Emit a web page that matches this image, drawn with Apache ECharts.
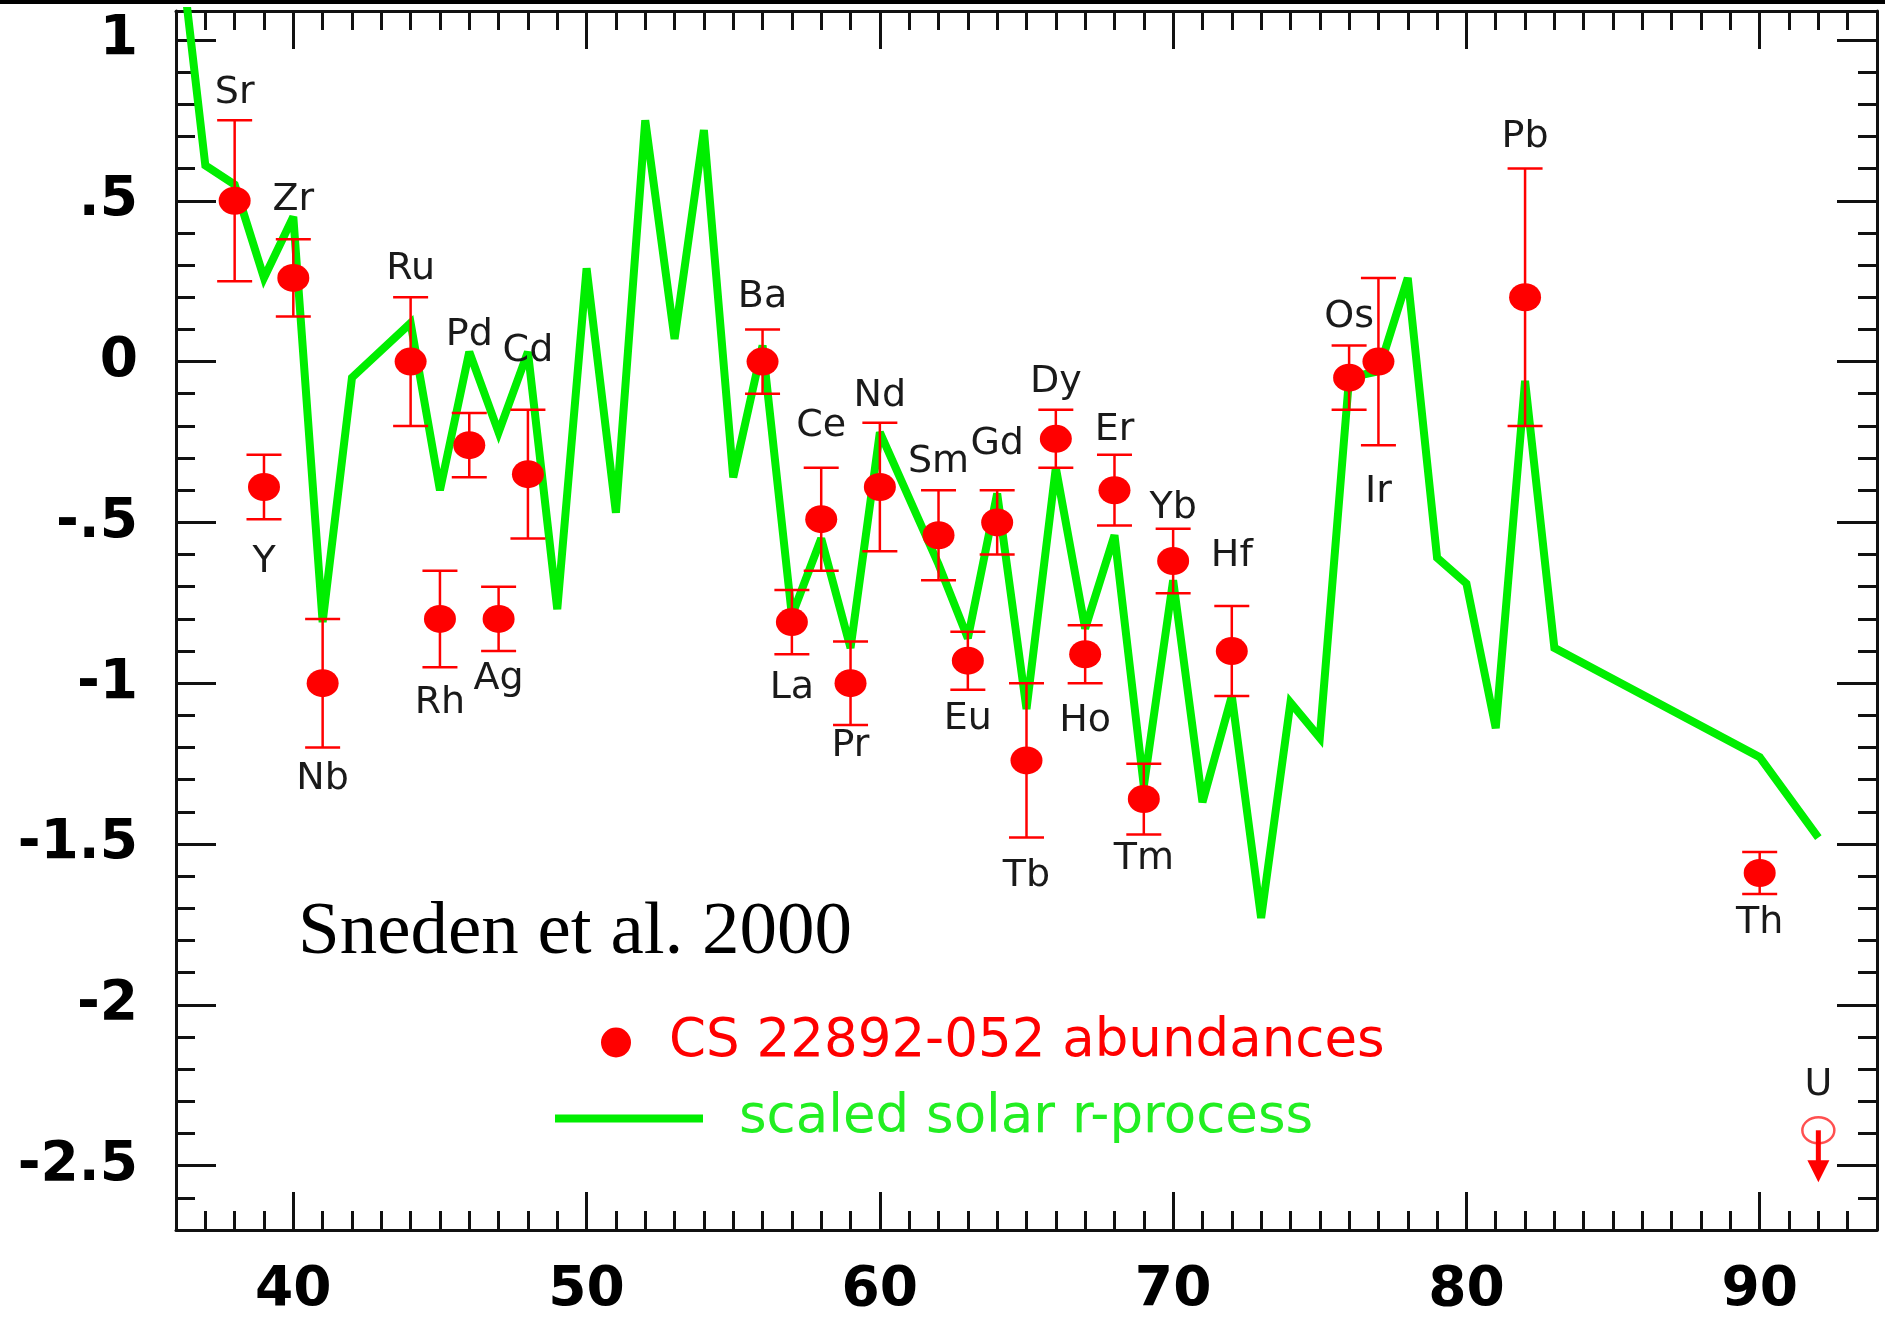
<!DOCTYPE html>
<html>
<head>
<meta charset="utf-8">
<title>CS 22892-052 abundances vs scaled solar r-process</title>
<script src="https://cdn.jsdelivr.net/npm/echarts@6/dist/echarts.min.js"></script>
<style>
  html, body { margin: 0; padding: 0; background: #fff; }
  #chart { width: 1885px; height: 1318px; }
</style>
</head>
<body>
<div id="chart"></div>
<script>
// CS 22892-052 abundances (log eps, scaled), Sneden et al. 2000
const obsElements = ['Sr', 'Y', 'Zr', 'Nb', 'Ru', 'Rh', 'Pd', 'Ag', 'Cd', 'Ba', 'La', 'Ce', 'Pr', 'Nd', 'Sm', 'Eu', 'Gd', 'Tb', 'Dy', 'Ho', 'Er', 'Tm', 'Yb', 'Hf', 'Os', 'Ir', 'Pb', 'Th']
const obsZ = [38, 39, 40, 41, 44, 45, 46, 47, 48, 56, 57, 58, 59, 60, 62, 63, 64, 65, 66, 67, 68, 69, 70, 72, 76, 77, 82, 90]
const obsLogEps = [0.50, -0.39, 0.26, -1.00, 0.00, -0.80, -0.26, -0.80, -0.35, 0.00, -0.81, -0.49, -1.00, -0.39, -0.54, -0.93, -0.50, -1.24, -0.24, -0.91, -0.40, -1.36, -0.62, -0.90, -0.05, 0.00, 0.20, -1.59]
const obsErr = [0.25, 0.10, 0.12, 0.20, 0.20, 0.15, 0.10, 0.10, 0.20, 0.10, 0.10, 0.16, 0.13, 0.20, 0.14, 0.09, 0.10, 0.24, 0.09, 0.09, 0.11, 0.11, 0.10, 0.14, 0.10, 0.26, 0.40, 0.065]

// upper limits
const limitElements = ['U']
const limitZ = [92]
const limitLogEps = [-2.39]

// scaled solar r-process curve
const solarZ = [36, 37, 38, 39, 40, 41, 42, 44, 45, 46, 47, 48, 49, 50, 51, 52, 53, 54, 55, 56, 57, 58, 59, 60, 62, 63, 64, 65, 66, 67, 68, 69, 70, 71, 72, 73, 74, 75, 76, 77, 78, 79, 80, 81, 82, 83, 90, 92]
const solarLogEps = [1.40, 0.61, 0.55, 0.26, 0.45, -0.81, -0.05, 0.12, -0.40, 0.03, -0.22, 0.03, -0.77, 0.29, -0.47, 0.75, 0.07, 0.72, -0.36, 0.05, -0.79, -0.55, -0.89, -0.22, -0.63, -0.86, -0.41, -1.08, -0.33, -0.83, -0.54, -1.32, -0.68, -1.37, -1.04, -1.73, -1.06, -1.17, -0.05, -0.03, 0.26, -0.61, -0.69, -1.14, -0.06, -0.89, -1.23, -1.48]

// axis ticks
const xMajorTicks = [40, 50, 60, 70, 80, 90]
const yMajorTicks = [-2.5, -2, -1.5, -1, -0.5, 0, 0.5, 1]

// element label placement: side, and px from the error bar end to the label
const labelsBelow = ['Y', 'Nb', 'Rh', 'Ag', 'La', 'Pr', 'Eu', 'Tb', 'Ho', 'Tm', 'Ir', 'Th']
const labelGap = {
  Sr: 29, Y: 41, Zr: 41, Nb: 30, Ru: 30, Rh: 34, Pd: 80, Ag: 26, Cd: 61, Ba: 34, La: 32, Ce: 44, Pr: 19, Nd: 29,
  Sm: 30, Eu: 27, Gd: 48, Tb: 37, Dy: 30, Ho: 36, Er: 27, Tm: 23, Yb: 23, Hf: 52, Os: 30, Ir: 45, Pb: 33, Th: 27,
}

const RED = '#ff0000'
const GREEN = '#00ee00'
const INK = '#111'
const LABEL_FONT = '38px "DejaVu Sans"'
const X_MIN = 36, X_MAX = 94, Y_MIN = -2.7, Y_MAX = 1.09

const tickStyle = { color: INK, width: 3 }
const axisLineOn = { show: true, onZero: false, lineStyle: { color: INK, width: 3 } }
const axisLineOff = { show: false, onZero: false }
const tickFont = { color: '#000', fontSize: 55, fontWeight: 'bold', fontFamily: 'DejaVu Sans' }

const xMajor = (position, labels) => ({
  type: 'value', position, min: X_MIN, max: X_MAX,
  axisLine: axisLineOn,
  axisTick: { customValues: xMajorTicks, inside: true, length: 38, lineStyle: tickStyle },
  axisLabel: labels ? { customValues: xMajorTicks, margin: 33, ...tickFont } : { show: false },
  splitLine: { show: false },
})
const xMinor = position => ({
  type: 'value', position, min: X_MIN, max: X_MAX, interval: 1,
  axisLine: axisLineOff,
  axisTick: { inside: true, length: 19, lineStyle: tickStyle },
  axisLabel: { show: false }, splitLine: { show: false },
})
const yLabel = v => v === 0 ? '0' : String(v).replace(/^(-?)0\./, '$1.')
const yMajor = (position, labels) => ({
  type: 'value', position, min: Y_MIN, max: Y_MAX,
  axisLine: axisLineOn,
  axisTick: { customValues: yMajorTicks, inside: true, length: 40, lineStyle: tickStyle },
  axisLabel: labels ? { customValues: yMajorTicks, margin: 38, formatter: yLabel, ...tickFont } : { show: false },
  splitLine: { show: false },
})
const yMinor = position => ({
  type: 'value', position, min: Y_MIN, max: Y_MAX, interval: 0.1,
  axisLine: axisLineOff,
  axisTick: { inside: true, length: 19, lineStyle: tickStyle },
  axisLabel: { show: false }, splitLine: { show: false },
})

function renderErrorBar(params, api) {
  const z = api.value(0), v = api.value(1), e = api.value(2)
  const top = api.coord([z, v + e])
  const bot = api.coord([z, v - e])
  const half = 17.5
  const name = obsElements[params.dataIndex]
  const below = labelsBelow.includes(name)
  const ty = below ? bot[1] + labelGap[name] + 2 : top[1] - labelGap[name] + 2
  const stroke = { stroke: RED, lineWidth: 2.5 }
  return {
    type: 'group',
    children: [
      { type: 'line', shape: { x1: top[0], y1: top[1], x2: bot[0], y2: bot[1] }, style: stroke },
      { type: 'line', shape: { x1: top[0] - half, y1: top[1], x2: top[0] + half, y2: top[1] }, style: stroke },
      { type: 'line', shape: { x1: bot[0] - half, y1: bot[1], x2: bot[0] + half, y2: bot[1] }, style: stroke },
      { type: 'text', x: top[0], y: ty, style: { text: name, fill: '#1a1a1a', font: LABEL_FONT, align: 'center', verticalAlign: 'middle' } },
    ],
  }
}

function renderUpperLimit(params, api) {
  const p = api.coord([api.value(0), api.value(1)])
  return {
    type: 'group',
    children: [
      { type: 'ellipse', shape: { cx: p[0], cy: p[1], rx: 16, ry: 13 }, style: { fill: 'none', stroke: '#ff5050', lineWidth: 2.5 } },
      { type: 'line', shape: { x1: p[0], y1: p[1], x2: p[0], y2: p[1] + 34 }, style: { stroke: RED, lineWidth: 5 } },
      { type: 'polygon', shape: { points: [[p[0] - 11, p[1] + 30], [p[0] + 11, p[1] + 30], [p[0], p[1] + 52]] }, style: { fill: RED } },
      { type: 'text', x: p[0], y: p[1] - 45, style: { text: limitElements[params.dataIndex], fill: '#1a1a1a', font: LABEL_FONT, align: 'center', verticalAlign: 'middle' } },
    ],
  }
}

const chart = echarts.init(document.getElementById('chart'), null, { renderer: 'canvas' })

chart.setOption({
  animation: false,
  backgroundColor: '#fff',
  grid: { left: 176, right: 8, top: 11, bottom: 86, containLabel: false },
  xAxis: [xMajor('bottom', true), xMinor('bottom'), xMajor('top', false), xMinor('top')],
  yAxis: [yMajor('left', true), yMinor('left'), yMajor('right', false), yMinor('right')],
  legend: [
    {
      left: 601, top: 1016, padding: 0, itemWidth: 96, itemHeight: 30, selectedMode: false,
      data: ['CS 22892-052 abundances'],
      textStyle: { color: RED, fontSize: 53, fontFamily: 'DejaVu Sans' },
    },
    {
      left: 555, top: 1092, padding: 0, itemWidth: 148, itemHeight: 8, selectedMode: false,
      data: [{ name: 'scaled solar r-process', icon: 'rect' }],
      textStyle: { color: '#22ee22', fontSize: 53, fontFamily: 'DejaVu Sans', padding: [0, 0, 0, 31] },
    },
  ],
  graphic: [
    { type: 'rect', x: 0, y: 0, shape: { width: 1885, height: 4 }, style: { fill: '#000' } },
    { type: 'text', x: 298, y: 933, style: { text: 'Sneden et al. 2000', font: '75px "Liberation Serif"', fill: '#000', align: 'left', verticalAlign: 'middle' } },
  ],
  series: [
    {
      name: 'scaled solar r-process', type: 'line',
      data: solarZ.map((z, i) => [z, solarLogEps[i]]),
      symbol: 'none', silent: true, z: 2,
      lineStyle: { color: GREEN, width: 8, join: 'miter', miterLimit: 3 },
      itemStyle: { color: GREEN },
    },
    {
      name: 'error bars', type: 'custom', z: 3, clip: false, silent: true,
      data: obsZ.map((z, i) => [z, obsLogEps[i], obsErr[i]]),
      encode: { x: 0, y: 1 },
      renderItem: renderErrorBar,
    },
    {
      name: 'CS 22892-052 abundances', type: 'scatter', z: 4,
      data: obsZ.map((z, i) => [z, obsLogEps[i]]),
      symbol: 'circle', symbolSize: [32, 28],
      itemStyle: { color: RED, opacity: 1 },
    },
    {
      name: 'upper limits', type: 'custom', z: 4, clip: false, silent: true,
      data: limitZ.map((z, i) => [z, limitLogEps[i]]),
      encode: { x: 0, y: 1 },
      renderItem: renderUpperLimit,
    },
  ],
})
</script>
</body>
</html>
